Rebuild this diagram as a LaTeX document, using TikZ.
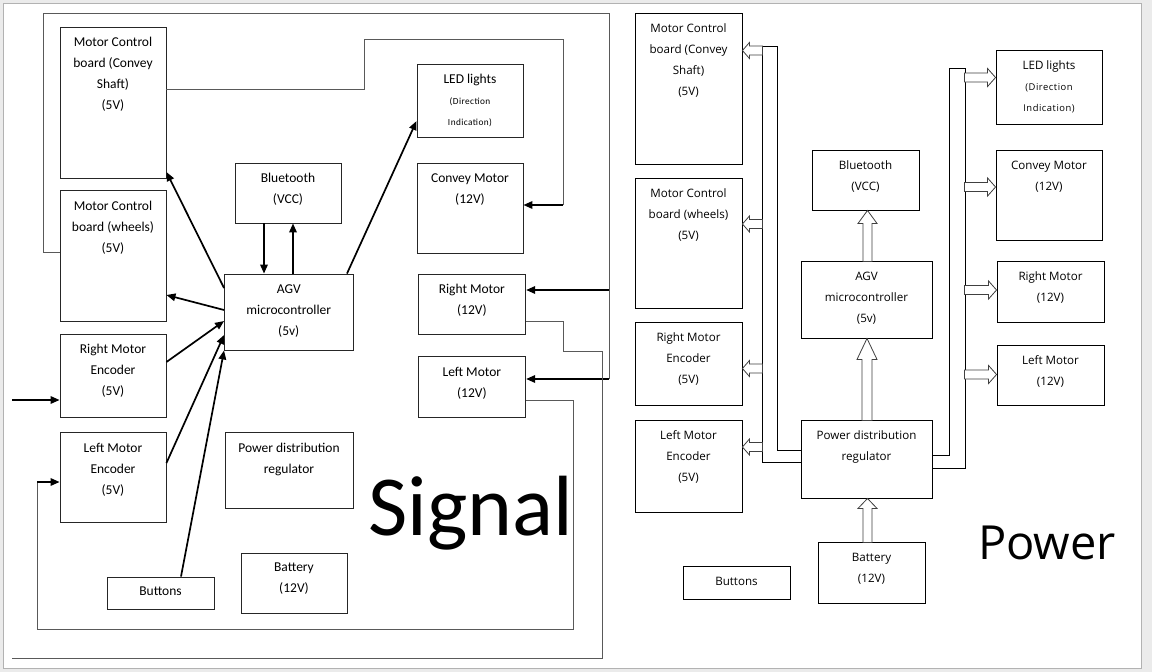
\documentclass[tikz,border=0pt]{standalone}
\usepackage{fontspec}
\setmainfont{Carlito}
\newfontfamily\rfont{Open Sans}
\usetikzlibrary{arrows.meta,calc}
\newcommand\ledsmallS{\fontsize{9.3}{21}\selectfont\addfontfeature{LetterSpace=4.5}}
\newcommand\ledsmallP{\fontsize{9.4}{21}\selectfont\addfontfeature{LetterSpace=5.5}}
\newcommand\mkbox[8]{%
 \node[#1, minimum width={(#6)-(#4)}, minimum height={(#7)-(#5)}] (#3) at ({((#4)+(#6))/2},{((#5)+(#7))/2}) {};
 \node[#2, anchor=north] (#3-t) at (#3.north) {#8};}
% horizontal hollow arrow: tip, dir(+1 right,-1 left), length, head length, head half, shaft half
\newcommand\harr[6]{%
 \draw[hollow] (#1) -- ++({-1*(#2)*(#4)},{-(#5)}) -- ++(0,{(#5)-(#6)}) -- ++({-1*(#2)*((#3)-(#4))},0) -- ++(0,{2*(#6)}) -- ++({(#2)*((#3)-(#4))},0) -- ++(0,{(#5)-(#6)}) -- cycle;}
% vertical up hollow arrow: tip, length, head length, head half, shaft half
\newcommand\varr[5]{%
 \draw[hollow] (#1) -- ++({-(#4)},{#3}) -- ++({(#4)-(#5)},0) -- ++(0,{(#2)-(#3)}) -- ++({2*(#5)},0) -- ++(0,{-((#2)-(#3))}) -- ++({(#4)-(#5)},0) -- cycle;}
\tikzset{
 box/.style={draw=black!85, line width=0.9pt, inner sep=0pt},
 pbox/.style={draw=black, line width=0.9pt, inner sep=0pt},
 stxt/.style={font=\fontsize{13.5}{21}\selectfont, align=center, inner sep=0pt, yshift=-10.5pt},
 ptxt/.style={font=\rfont\fontsize{11.6}{21}\selectfont, align=center, inner sep=0pt, yshift=-11pt},
 sarr/.style={draw=black, line width=1.7pt, -{Triangle[length=9pt,width=7.5pt]}},
 wire/.style={draw=black!65, line width=1pt},
 hollow/.style={draw=black!75, fill=white, line width=0.8pt, line join=miter},
}
\begin{document}
\begin{tikzpicture}[x=1pt,y=-1pt]
\useasboundingbox (0,0) rectangle (1152,672);
\fill[black!8] (0,0) rectangle (1152,672);
\draw[fill=white, draw=black!30, line width=0.8pt] (3,3) rectangle (1141,668);

% ---------------- Signal ----------------
\mkbox{box}{stxt}{scs}{60}{27}{166}{178}{Motor Control\\board (Convey\\Shaft)\\(5V)}
\mkbox{box}{stxt}{swh}{60}{190.7}{166}{321}{Motor Control\\board (wheels)\\(5V)}
\mkbox{box}{stxt}{sbt}{235}{163}{341}{223}{Bluetooth\\(VCC)}
\mkbox{box}{stxt}{sagv}{224.5}{274}{353}{350}{AGV\\microcontroller\\(5v)}
\mkbox{box}{stxt}{srme}{60}{334}{166}{417}{Right Motor\\Encoder\\(5V)}
\mkbox{box}{stxt}{slme}{60}{432.7}{166}{522.7}{Left Motor\\Encoder\\(5V)}
\mkbox{box}{stxt}{spdr}{225}{432.7}{353}{508.7}{Power distribution\\regulator}
\mkbox{box}{stxt}{sbtn}{107}{577}{214}{609}{Buttons}
\mkbox{box}{stxt}{sbat}{241}{553}{347}{613}{Battery\\(12V)}
\mkbox{box}{stxt}{sled}{417}{64}{523}{137}{LED lights\\{\ledsmallS(Direction}\\{\ledsmallS Indication)}}
\mkbox{box}{stxt}{scm}{417}{163}{523}{253}{Convey Motor\\(12V)}
\mkbox{box}{stxt}{srm}{418}{274}{525.7}{334}{Right Motor\\(12V)}
\mkbox{box}{stxt}{slm}{418}{356.7}{525.7}{417}{Left Motor\\(12V)}

\coordinate (j1) at (609,379);
\coordinate (j2) at (609,290);
\coordinate (j3) at (563,205);
\coordinate (j4) at (37,482);
\coordinate (ext) at (12,400);
\coordinate (open) at (12,658);

\draw[wire] (swh.west |- 0,252) -| (43,13) -| (j1);
\draw[sarr] (j1) -- (slm.east |- j1);
\draw[sarr] (j2) -- (srm.east |- j2);
\draw[wire] (scs.east |- 0,89) -| (364,39) -| (j3);
\draw[sarr] (j3) -- (scm.east |- j3);
\draw[wire] (srm.east |- 0,321) -| (563,351) -| (602,658) -- (open);
\draw[wire] (slm.east |- 0,400) -| (573,629) -| (j4);
\draw[sarr] (j4) -- (slme.west |- j4);
\draw[sarr] (ext) -- (srme.west |- ext);

\draw[sarr] (sagv.west |- 0,288) -- (scs.east |- 0,172);
\draw[sarr] (sagv.west |- 0,310) -- (swh.east |- 0,295);
\draw[sarr] (sbt.south -| 264,0) -- (sagv.north -| 264,0);
\draw[sarr] (sagv.north -| 293,0) -- (sbt.south -| 293,0);
\draw[sarr] (sagv.north -| 347,0) -- (sled.west |- 0,121);
\draw[sarr] (srme.east |- 0,362) -- (sagv.west |- 0,321);
\draw[sarr] (slme.east |- 0,463) -- (sagv.west |- 0,335);
\draw[sarr] (sbtn.north -| 181,0) -- (sagv.south west);

\node[font=\fontsize{85.5}{86}\selectfont, anchor=base west, inner sep=0pt] (sig) at (368,535) {Signal};

% ---------------- Power ----------------
\mkbox{pbox}{ptxt}{pcs}{635}{13}{742}{164}{Motor Control\\board (Convey\\Shaft)\\(5V)}
\mkbox{pbox}{ptxt}{pwh}{635}{178}{742}{308}{Motor Control\\board (wheels)\\(5V)}
\mkbox{pbox}{ptxt}{prme}{635}{322}{742}{405}{Right Motor\\Encoder\\(5V)}
\mkbox{pbox}{ptxt}{plme}{635}{420}{742}{512}{Left Motor\\Encoder\\(5V)}
\mkbox{pbox}{ptxt}{pbt}{812}{150}{919}{210}{Bluetooth\\(VCC)}
\mkbox{pbox}{ptxt}{pagv}{801}{261}{932}{338}{AGV\\microcontroller\\(5v)}
\mkbox{pbox}{ptxt}{ppdr}{801}{420}{932}{498}{Power distribution\\regulator}
\mkbox{pbox}{ptxt}{pbat}{818}{542}{925}{603}{Battery\\(12V)}
\mkbox{pbox}{ptxt}{pbtn}{683}{566}{790}{599}{Buttons}
\mkbox{pbox}{ptxt}{pled}{996}{50}{1102}{124}{LED lights\\{\ledsmallP(Direction}\\{\ledsmallP Indication)}}
\mkbox{pbox}{ptxt}{pcm}{996}{150}{1102}{240}{Convey Motor\\(12V)}
\mkbox{pbox}{ptxt}{prm}{997}{261}{1104}{322}{Right Motor\\(12V)}
\mkbox{pbox}{ptxt}{plm}{997}{345}{1104}{405}{Left Motor\\(12V)}

% buses
\draw[black, line width=0.9pt] (ppdr.west |- 0,462) -- (762,462) -- (762,46) -- (777,46) -- (777,450) -- (ppdr.west |- 0,450);
\draw[black, line width=0.9pt] (ppdr.east |- 0,455) -- (949,455) -- (949,68) -- (965,68) -- (965,468) -- (ppdr.east |- 0,468);

\harr{pcs.east |- 0,50.5}{-1}{20}{7}{8}{4.5}
\harr{pwh.east |- 0,224}{-1}{20}{7}{8}{4.5}
\harr{prme.east |- 0,368.5}{-1}{20}{7}{8}{4.5}
\harr{plme.east |- 0,447}{-1}{20}{7}{8}{4.5}
\harr{pled.west |- 0,77.5}{1}{31}{8}{9}{4.5}
\harr{pcm.west |- 0,187}{1}{31}{8}{9}{4.5}
\harr{prm.west |- 0,290}{1}{32}{8}{9}{4.5}
\harr{plm.west |- 0,374.5}{1}{32}{8}{9}{4.5}
\varr{pbt.south -| 867.5,0}{51}{13}{9.5}{4.5}
\varr{pagv.south -| 867,0}{82}{21}{10}{5}
\varr{ppdr.south -| 867.5,0}{44}{10}{9.5}{4.5}

\node[font=\rfont\fontsize{47}{48}\selectfont, anchor=base west, inner sep=0pt] (pow) at (978,559) {Power};
\end{tikzpicture}
\end{document}
